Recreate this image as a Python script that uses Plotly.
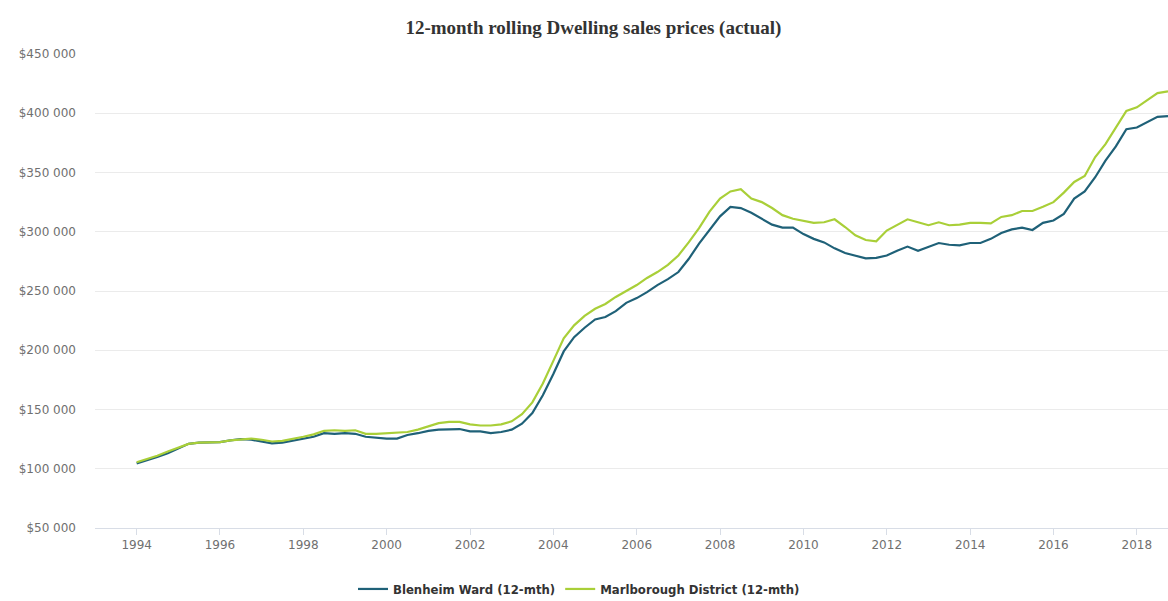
import pandas as pd
import plotly.graph_objects as go

# Quarterly observations, Jan 1994 to Oct 2018
quarters = pd.date_range("1994-01-01", "2018-10-01", freq="QS")

blenheim_ward = [
    104500, 107000, 110000, 113000, 117000, 121000, 122000, 122000,
    122500, 124000, 125000, 124500, 123000, 121500, 122000, 123500,
    125500, 127000, 130000, 129500, 130000, 129500, 127000, 126000,
    125500, 125500, 128500, 130000, 132000, 133000, 133000, 133500,
    131500, 131500, 130000, 131000, 133000, 138000, 147000, 162000,
    180000, 199000, 211000, 219000, 226000, 228000, 233000, 240000,
    244000, 249000, 255000, 260000, 266000, 277000, 290000, 302000,
    313000, 321000, 320000, 316000, 311000, 306000, 303500, 303500,
    298000, 294000, 291000, 286000, 282000, 280000, 277500, 278000,
    280000, 284000, 287500, 284000, 287000, 290500, 289000, 288500,
    290500, 290500, 294000, 299000, 302000, 303500, 301500, 307500,
    309500, 315000, 328000, 334000, 346000, 360000, 372000, 386500,
    388000, 392500, 397000, 397500,
]

marlborough_district = [
    105500, 108000, 111000, 114500, 118000, 121000, 122000, 122000,
    122500, 124000, 125000, 125500, 124500, 123000, 123500, 125000,
    127000, 129000, 132000, 132500, 132000, 132500, 129500, 129500,
    130000, 130000, 131000, 133000, 136000, 138500, 139500, 139500,
    137500, 136500, 136500, 137500, 140000, 146000, 156000, 172000,
    191000, 210000, 221000, 229000, 235000, 239000, 245000, 250000,
    255000, 261000, 266000, 272000, 280000, 291000, 303000, 317000,
    328000, 334000, 336000, 328000, 325000, 320000, 314000, 311000,
    309000, 307500, 308000, 310500, 304000, 297000, 293000, 292000,
    301000, 306000, 310500, 308000, 305500, 308000, 305500, 306000,
    307500, 307500, 307000, 312500, 314000, 317500, 317500, 321000,
    325000, 333000, 342000, 347000, 363000, 374000, 388000, 402000,
    405000, 411000, 417000, 418500,
]

series_names = ["Blenheim Ward (12-mth)", "Marlborough District (12-mth)"]
series_colors = ["#1f6178", "#a9cf38"]

y_tick_values = [50000, 100000, 150000, 200000, 250000, 300000, 350000, 400000, 450000]
y_tick_labels = ["$50 000", "$100 000", "$150 000", "$200 000", "$250 000",
                 "$300 000", "$350 000", "$400 000", "$450 000"]
x_tick_years = list(range(1994, 2019, 2))

fig = go.Figure()
for name, values, color in zip(series_names,
                               [blenheim_ward, marlborough_district],
                               series_colors):
    fig.add_trace(go.Scatter(
        x=quarters, y=values, name=name, mode="lines",
        line=dict(color=color, width=2.2),
    ))

label_font = dict(family="DejaVu Sans", size=12, color="#707070")

fig.update_layout(
    width=1168, height=601,
    margin=dict(l=95, r=0, t=54, b=73),
    paper_bgcolor="white", plot_bgcolor="white",
    title=dict(
        text="<b>12-month rolling Dwelling sales prices (actual)</b>",
        x=0.508, xanchor="center", y=1 - 27 / 601, yanchor="middle",
        font=dict(family="Liberation Serif", size=19, color="#333333"),
    ),
    showlegend=True,
    legend=dict(
        orientation="h",
        xref="container", x=579 / 1168, xanchor="center",
        yref="container", y=1 - 589 / 601, yanchor="middle",
        font=dict(family="DejaVu Sans Condensed", size=13, color="#333333", weight="bold"),
        itemwidth=30, tracegroupgap=0,
    ),
    xaxis=dict(
        range=["1993-01-01", "2018-10-01"],
        tickvals=[pd.Timestamp(f"{y}-01-01") for y in x_tick_years],
        ticktext=[str(y) for y in x_tick_years],
        ticks="outside", ticklen=6, tickcolor="#d8dde6",
        showline=True, linecolor="#d8dde6", linewidth=1,
        showgrid=False, zeroline=False,
        tickfont=label_font,
    ),
    yaxis=dict(
        range=[50000, 450000],
        tickvals=y_tick_values, ticktext=y_tick_labels,
        showgrid=True, gridcolor="#ebebeb", gridwidth=1,
        zeroline=False, showline=False,
        ticklabelstandoff=18,
        tickfont=label_font,
    ),
)

fig.write_html("out.html")
